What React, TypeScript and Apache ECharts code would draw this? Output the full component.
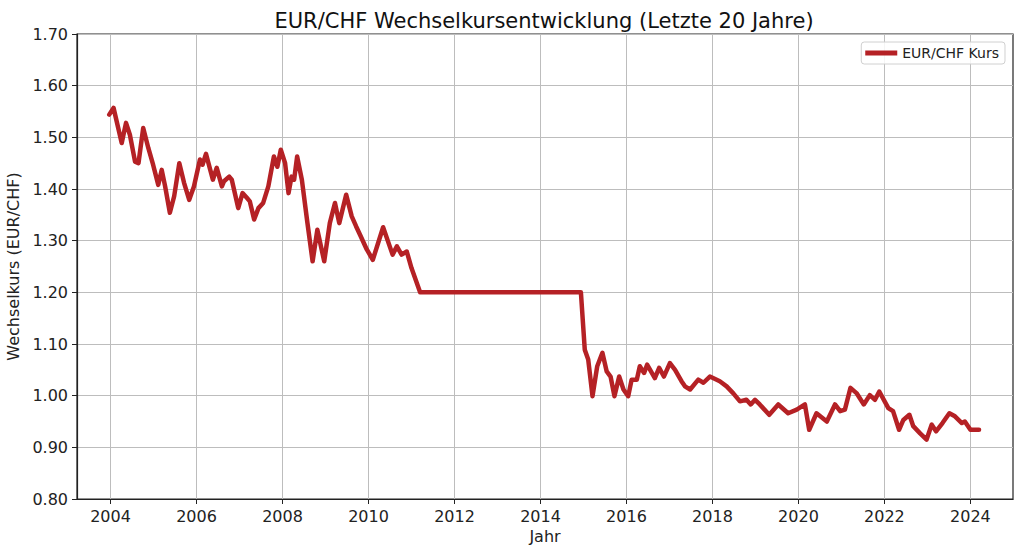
import React, { useEffect, useRef } from "react";
import * as echarts from "echarts";

const years: number[] = [
  2003.97, 2004.07, 2004.26, 2004.36, 2004.45, 2004.57, 2004.65, 2004.76, 2004.88, 2004.99,
  2005.11, 2005.19, 2005.27, 2005.38, 2005.48, 2005.60, 2005.71, 2005.83, 2005.94,
  2006.08, 2006.14, 2006.22, 2006.38, 2006.47, 2006.59, 2006.64, 2006.76, 2006.82, 2006.97,
  2007.07, 2007.17, 2007.24, 2007.34, 2007.44, 2007.55, 2007.67, 2007.80, 2007.88, 2007.96,
  2008.06, 2008.14, 2008.21, 2008.27, 2008.34, 2008.45, 2008.58, 2008.70, 2008.81, 2008.97,
  2009.10, 2009.22, 2009.32, 2009.48, 2009.61, 2009.71, 2009.80, 2009.96,
  2010.10, 2010.34, 2010.56, 2010.66, 2010.77, 2010.89, 2011.00, 2011.20,
  2014.94, 2015.03, 2015.11, 2015.21, 2015.32, 2015.44, 2015.54, 2015.63, 2015.72, 2015.83, 2015.93,
  2016.04, 2016.12, 2016.24, 2016.31, 2016.41, 2016.48, 2016.66, 2016.76, 2016.87,
  2017.01, 2017.13, 2017.28, 2017.36, 2017.48, 2017.67, 2017.79, 2017.94,
  2018.17, 2018.33, 2018.48, 2018.64, 2018.79, 2018.89, 2018.99,
  2019.10, 2019.32, 2019.53, 2019.76, 2019.96,
  2020.15, 2020.25, 2020.42, 2020.66, 2020.85, 2020.97,
  2021.08, 2021.21, 2021.35, 2021.52, 2021.66, 2021.78, 2021.88,
  2022.09, 2022.20, 2022.34, 2022.44, 2022.58, 2022.67, 2022.83, 2022.98,
  2023.10, 2023.20, 2023.35, 2023.51, 2023.64, 2023.80, 2023.87, 2024.00, 2024.20,
];

const rates: number[] = [
  1.544, 1.557, 1.489, 1.528, 1.505, 1.453, 1.450, 1.518, 1.479, 1.447,
  1.408, 1.437, 1.405, 1.354, 1.386, 1.450, 1.412, 1.379, 1.405,
  1.457, 1.447, 1.468, 1.418, 1.441, 1.405, 1.415, 1.424, 1.418, 1.363,
  1.392, 1.383, 1.376, 1.341, 1.363, 1.373, 1.405, 1.463, 1.443, 1.476,
  1.450, 1.392, 1.424, 1.418, 1.463, 1.418, 1.334, 1.260, 1.321, 1.260,
  1.334, 1.373, 1.334, 1.389, 1.347, 1.328, 1.312, 1.283,
  1.263, 1.326, 1.273, 1.289, 1.273, 1.279, 1.247, 1.200,
  1.200, 1.089, 1.070, 0.999, 1.057, 1.083, 1.047, 1.037, 0.999, 1.037, 1.012,
  0.999, 1.031, 1.031, 1.057, 1.044, 1.060, 1.034, 1.054, 1.037,
  1.063, 1.050, 1.028, 1.018, 1.012, 1.031, 1.025, 1.037,
  1.028, 1.018, 1.005, 0.989, 0.992, 0.983, 0.992,
  0.983, 0.963, 0.983, 0.966, 0.973,
  0.983, 0.934, 0.966, 0.950, 0.983, 0.970,
  0.973, 1.015, 1.005, 0.983, 1.001, 0.992, 1.008,
  0.976, 0.970, 0.934, 0.953, 0.963, 0.941, 0.927, 0.915,
  0.944, 0.931, 0.947, 0.966, 0.960, 0.947, 0.950, 0.934, 0.934,
];

const xTicks: number[] = [2004, 2006, 2008, 2010, 2012, 2014, 2016, 2018, 2020, 2022, 2024];

const titleText = "EUR/CHF Wechselkursentwicklung (Letzte 20 Jahre)";
const seriesName = "EUR/CHF Kurs";
const xName = "Jahr";
const yName = "Wechselkurs (EUR/CHF)";

const FONT = "DejaVu Sans";

export default function App() {
  const ref = useRef<HTMLDivElement>(null);

  useEffect(() => {
    if (!ref.current) return;
    const chart = echarts.init(ref.current, undefined, { renderer: "svg" });
    const data = years.map((y, i) => [y, rates[i]]);
    chart.setOption({
      animation: false,
      backgroundColor: "#ffffff",
      textStyle: { fontFamily: FONT },
      title: {
        text: titleText,
        left: 539,
        top: 5,
        textAlign: "center",
        textStyle: { fontFamily: FONT, fontSize: 21, fontWeight: "normal", color: "#111" },
      },
      legend: {
        right: 19,
        top: 42,
        data: [{ name: seriesName, icon: "rect" }],
        itemWidth: 32,
        itemHeight: 5,
        itemGap: 8,
        padding: [4, 6, 4, 4],
        borderColor: "#d0d0d0",
        borderWidth: 1,
        borderRadius: 3,
        backgroundColor: "rgba(255,255,255,0.85)",
        textStyle: { fontFamily: FONT, fontSize: 14, color: "#222" },
      },
      grid: {
        left: 77,
        right: 11,
        top: 34,
        bottom: 59,
        show: true,
        borderColor: "#222",
        borderWidth: 1.2,
        outerBoundsMode: "none",
      },
      xAxis: {
        type: "value",
        min: 2003.22,
        max: 2024.99,
        name: xName,
        nameLocation: "middle",
        nameGap: 29,
        nameTextStyle: { fontFamily: FONT, fontSize: 16, color: "#222" },
        axisLine: { show: true, lineStyle: { color: "#222", width: 1.2 } },
        axisTick: { show: true, length: 5, customValues: xTicks, lineStyle: { color: "#222" } },
        axisLabel: {
          customValues: xTicks,
          margin: 9,
          fontFamily: FONT,
          fontSize: 16,
          color: "#222",
          formatter: (v: number) => String(Math.round(v)),
        },
        splitLine: { show: true, lineStyle: { color: "#bdbdbd", width: 1 } },
      },
      yAxis: {
        type: "value",
        min: 0.8,
        max: 1.7,
        interval: 0.1,
        name: yName,
        nameLocation: "middle",
        nameGap: 46,
        nameTextStyle: { fontFamily: FONT, fontSize: 16, color: "#222" },
        axisLine: { show: true, lineStyle: { color: "#222", width: 1.2 } },
        axisTick: { show: true, length: 5, lineStyle: { color: "#222" } },
        axisLabel: {
          margin: 9,
          fontFamily: FONT,
          fontSize: 16,
          color: "#222",
          formatter: (v: number) => v.toFixed(2),
        },
        splitLine: { show: true, lineStyle: { color: "#bdbdbd", width: 1 } },
      },
      series: [
        {
          name: seriesName,
          type: "line",
          data,
          showSymbol: false,
          symbol: "none",
          color: "#b52125",
          lineStyle: { color: "#b52125", width: 4.5, join: "round", cap: "round" },
        },
      ],
    });
    return () => chart.dispose();
  }, []);

  return (
    <div
      ref={ref}
      style={{ position: "fixed", left: 0, top: 0, width: 1024, height: 558, background: "#fff" }}
    />
  );
}
